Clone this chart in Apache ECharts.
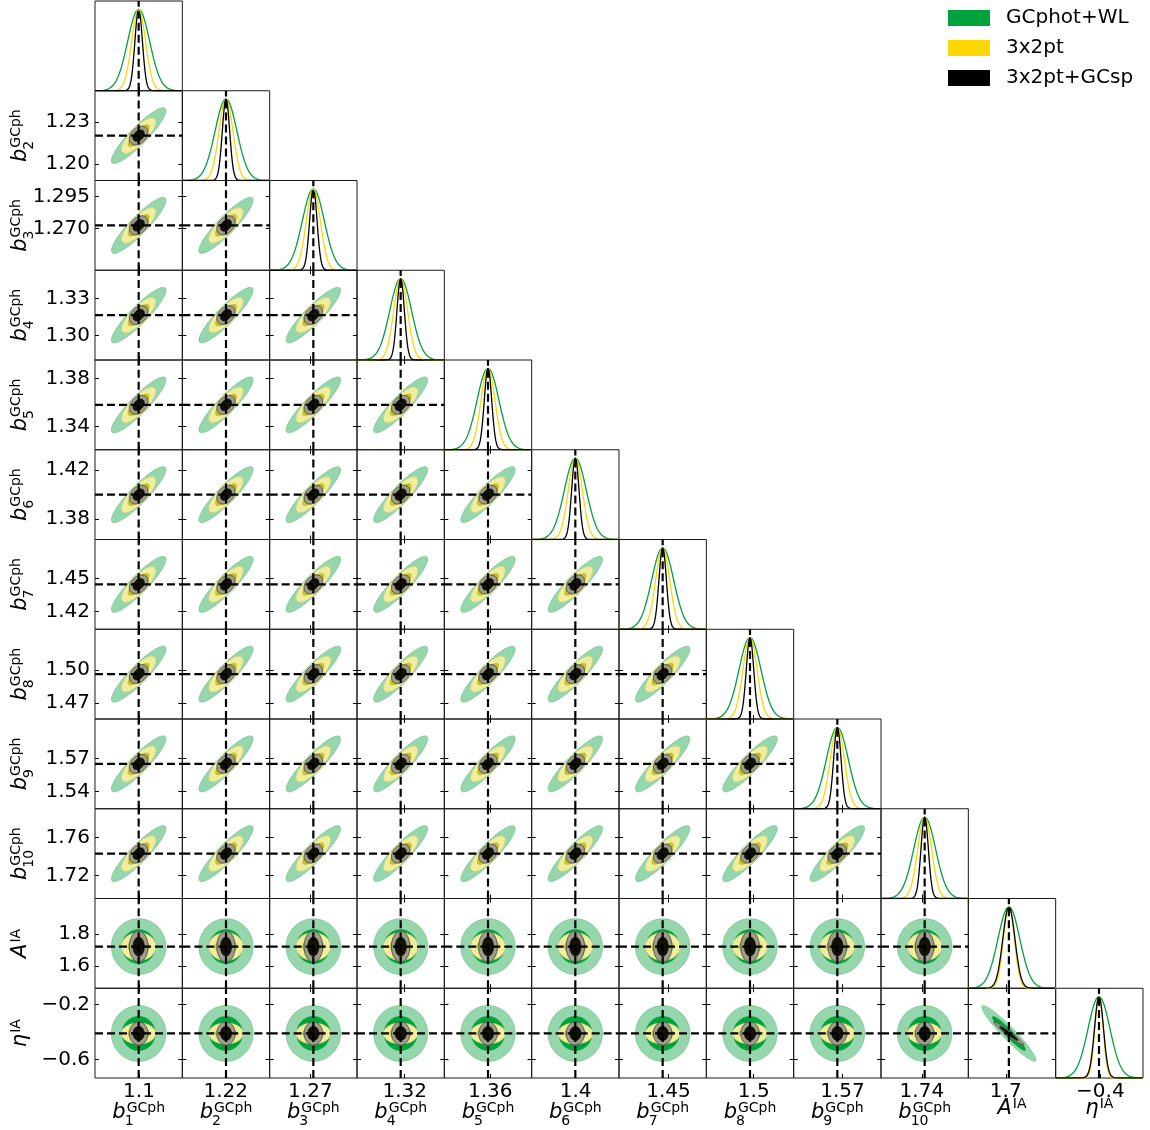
<!DOCTYPE html>
<html><head><meta charset="utf-8">
<script src="https://cdn.jsdelivr.net/npm/echarts@6/dist/echarts.min.js"></script>
<style>html,body{margin:0;padding:0;background:#fff}#c{width:1150px;height:1130px}</style>
</head><body><div id="c"></div><script>
// ---------------- data ----------------
const probeNames = ['GCphot+WL', '3x2pt', '3x2pt+GCsp'];
const paramMain = ['b','b','b','b','b','b','b','b','b','b','A','η'];
const paramSup  = ['GCph','GCph','GCph','GCph','GCph','GCph','GCph','GCph','GCph','GCph','IA','IA'];
const paramSub  = ['1','2','3','4','5','6','7','8','9','10','',''];
const fiducials = [1.0998, 1.2202, 1.2724, 1.3166, 1.3581, 1.3998, 1.4446, 1.4965, 1.5652, 1.7430, 1.72, -0.41];
const rangeMin  = [1.0708, 1.1882, 1.2374, 1.2801, 1.3206, 1.3631, 1.4036, 1.4555, 1.5242, 1.6960, 1.46, -0.735];
const rangeMax  = [1.1288, 1.2522, 1.3074, 1.3531, 1.3956, 1.4365, 1.4856, 1.5375, 1.6062, 1.7900, 2.02, -0.08];
const xTickValues = [1.1, 1.22, 1.27, 1.32, 1.36, 1.4, 1.45, 1.5, 1.57, 1.74, 1.7, -0.4];
const xTickLabels = ['1.1','1.22','1.27','1.32','1.36','1.4','1.45','1.5','1.57','1.74','1.7','\u22120.4'];
const yTickValues = [[], [1.20,1.23], [1.270,1.295], [1.30,1.33], [1.34,1.38], [1.38,1.42], [1.42,1.45], [1.47,1.50], [1.54,1.57], [1.72,1.76], [1.6,1.8], [-0.6,-0.2]];
const yTickLabels = [[], ['1.20','1.23'], ['1.270','1.295'], ['1.30','1.33'], ['1.34','1.38'], ['1.38','1.42'], ['1.42','1.45'], ['1.47','1.50'], ['1.54','1.57'], ['1.72','1.76'], ['1.6','1.8'], ['\u22120.6','\u22120.2']];
// 1-sigma marginal errors per probe
const sigmaGreen  = [0.0073, 0.0080, 0.0088, 0.0091, 0.0094, 0.0092, 0.0103, 0.0103, 0.0103, 0.0118, 0.070, 0.082];
const sigmaYellow = [0.0046, 0.0051, 0.0056, 0.0058, 0.0060, 0.0059, 0.0066, 0.0066, 0.0066, 0.0075, 0.035, 0.031];
const sigmaBlack  = [0.0025, 0.0027, 0.0030, 0.0031, 0.0032, 0.0031, 0.0035, 0.0035, 0.0035, 0.0040, 0.039, 0.034];
// correlation coefficients per probe (green, yellow, black)
const corrBiasBias = [0.90, 0.78, 0.35];
const corrBiasIA   = [0.0, 0.0, 0.0];
const corrAEta     = [-0.95, -0.97, -0.97];
// -------------------------------------

const sigmas = [sigmaGreen, sigmaYellow, sigmaBlack];
const lineColors = ['#00a23c', '#ffd700', '#000000'];
const layers = [
  {probe:0, k:2.48, fill:'#96d6ac', stroke:'#72c590', lw:0.8},
  {probe:0, k:1.52, fill:'#00a23c', stroke:'#00a23c', lw:0.5},
  {probe:1, k:2.48, fill:'#f1ed9e', stroke:'#d9d27a', lw:0.8},
  {probe:1, k:1.52, fill:'#cbc41c', stroke:'#b3aa22', lw:0.5},
  {probe:2, k:2.48, fill:'#9d9d8a', stroke:'#4d4d40', lw:1},
  {probe:2, k:1.52, fill:'#121208', stroke:'#000000', lw:0.5}
];
function corrOf(p, r, c) {
  if (r < 10 && c < 10) return corrBiasBias[p];
  if (r >= 10 && c >= 10) return corrAEta[p];
  return corrBiasIA[p];
}

const N = 12, GL = 95, GT = 1, PW = 1048 / 12, PH = 1077 / 12;
const FONT = '"DejaVu Sans", sans-serif';
const grids = [], xAxes = [], yAxes = [], series = [];
let gi = 0;
for (let r = 0; r < N; r++) {
  for (let c = 0; c <= r; c++) {
    const diag = r === c;
    grids.push({left: GL + c * PW, top: GT + r * PH, width: PW, height: PH, show: true,
      borderColor: '#1a1a1a', borderWidth: 1, backgroundColor: 'transparent'});
    const xb = {type: 'value', gridIndex: gi, min: rangeMin[c], max: rangeMax[c], position: 'bottom',
      axisLine: {show: false}, splitLine: {show: false},
      axisTick: {show: true, inside: true, length: 4, customValues: [xTickValues[c]], lineStyle: {color: '#000', width: 1}},
      axisLabel: {show: r === N - 1, customValues: [xTickValues[c]], formatter: () => xTickLabels[c],
        fontSize: 20, fontFamily: FONT, color: '#000', margin: 4}};
    const xt = {type: 'value', gridIndex: gi, min: rangeMin[c], max: rangeMax[c], position: 'top',
      axisLine: {show: false}, splitLine: {show: false},
      axisTick: {show: !diag, inside: true, length: 4, customValues: [xTickValues[c]], lineStyle: {color: '#000', width: 1}},
      axisLabel: {show: false}};
    xAxes.push(xb, xt);
    if (diag) {
      yAxes.push({type: 'value', gridIndex: gi, min: 0, max: 1.1, axisLine: {show: false}, splitLine: {show: false}, axisTick: {show: false}, axisLabel: {show: false}},
                 {type: 'value', gridIndex: gi, min: 0, max: 1.1, position: 'right', axisLine: {show: false}, splitLine: {show: false}, axisTick: {show: false}, axisLabel: {show: false}});
    } else {
      const tv = yTickValues[r], tl = yTickLabels[r];
      yAxes.push({type: 'value', gridIndex: gi, min: rangeMin[r], max: rangeMax[r], position: 'left',
        axisLine: {show: false}, splitLine: {show: false},
        axisTick: {show: true, inside: true, length: 4, customValues: tv, lineStyle: {color: '#000', width: 1}},
        axisLabel: {show: c === 0, customValues: tv,
          formatter: (v) => { let bi = 0; tv.forEach((t, i) => { if (Math.abs(t - v) < Math.abs(tv[bi] - v)) bi = i; }); return tl[bi]; },
          fontSize: 20, fontFamily: FONT, color: '#000', margin: 5}},
        {type: 'value', gridIndex: gi, min: rangeMin[r], max: rangeMax[r], position: 'right',
        axisLine: {show: false}, splitLine: {show: false},
        axisTick: {show: true, inside: true, length: 4, customValues: tv, lineStyle: {color: '#000', width: 1}},
        axisLabel: {show: false}});
    }
    const xi = 2 * gi, yi = 2 * gi;
    if (diag) {
      for (let p = 0; p < 3; p++) {
        const pts = [];
        const n = 200;
        for (let s = 0; s <= n; s++) {
          const x = rangeMin[c] + (rangeMax[c] - rangeMin[c]) * s / n;
          const z = (x - fiducials[c]) / sigmas[p][c];
          pts.push([x, Math.exp(-0.5 * z * z)]);
        }
        series.push({type: 'line', name: probeNames[p], xAxisIndex: xi, yAxisIndex: yi, data: pts,
          showSymbol: false, symbol: 'none', silent: true, z: 3,
          lineStyle: {color: lineColors[p], width: 1.3}, itemStyle: {color: lineColors[p]}});
      }
      series.push({type: 'line', xAxisIndex: xi, yAxisIndex: yi, data: [[fiducials[c], 0], [fiducials[c], 1.1]],
        showSymbol: false, symbol: 'none', silent: true, z: 5,
        lineStyle: {color: '#000', width: 2.2, type: [8, 4]}});
    } else {
      const rr = r, cc = c;
      series.push({type: 'custom', xAxisIndex: xi, yAxisIndex: yi, silent: true, z: 2,
        data: layers.map((l, k) => [k]),
        renderItem: (params, api) => {
          const L = layers[api.value(0)];
          const sx = sigmas[L.probe][cc], sy = sigmas[L.probe][rr], rho = corrOf(L.probe, rr, cc);
          const q = Math.sqrt(1 - rho * rho);
          const pts = [];
          for (let s = 0; s < 120; s++) {
            const t = 2 * Math.PI * s / 120, ct = Math.cos(t), st = Math.sin(t);
            pts.push(api.coord([fiducials[cc] + L.k * sx * ct, fiducials[rr] + L.k * sy * (rho * ct + q * st)]));
          }
          return {type: 'polygon', shape: {points: pts}, style: {fill: L.fill, stroke: L.stroke, lineWidth: L.lw}};
        }});
      series.push({type: 'line', xAxisIndex: xi, yAxisIndex: yi, data: [[fiducials[c], rangeMin[r]], [fiducials[c], rangeMax[r]]],
        showSymbol: false, symbol: 'none', silent: true, z: 5, lineStyle: {color: '#000', width: 2.2, type: [8, 4]}});
      series.push({type: 'line', xAxisIndex: xi, yAxisIndex: yi, data: [[rangeMin[c], fiducials[r]], [rangeMax[c], fiducials[r]]],
        showSymbol: false, symbol: 'none', silent: true, z: 5, lineStyle: {color: '#000', width: 2.2, type: [8, 4]}});
    }
    gi++;
  }
}

// axis name labels (math-style: italic main, superscript, subscript)
const mctx = document.createElement('canvas').getContext('2d');
function tw(text, font) { mctx.font = font; return mctx.measureText(text).width; }
const MAINF = 'italic 21px "DejaVu Sans"', SMALLF = '14px "DejaVu Sans"';
function labelChildren(i) {
  const mw = tw(paramMain[i], MAINF);
  const sw = Math.max(tw(paramSup[i], SMALLF), paramSub[i] ? tw(paramSub[i], SMALLF) : 0);
  const kids = [
    {type: 'text', x: 0, y: -0.35 * 21, style: {text: paramMain[i], font: MAINF, fill: '#000', textAlign: 'left', textVerticalAlign: 'middle'}},
    {type: 'text', x: mw + 1, y: -7 - 0.35 * 14, style: {text: paramSup[i], font: SMALLF, fill: '#000', textAlign: 'left', textVerticalAlign: 'middle'}}
  ];
  if (paramSub[i]) kids.push({type: 'text', x: mw - 1, y: 6 - 0.35 * 14, style: {text: paramSub[i], font: SMALLF, fill: '#000', textAlign: 'left', textVerticalAlign: 'middle'}});
  return {kids, w: mw + 1 + sw};
}
const graphics = [];
for (let c = 0; c < N; c++) {
  const L = labelChildren(c);
  const base = c < 10 ? 1120 : 1116;
  graphics.push({type: 'group', x: GL + (c + 0.5) * PW - L.w / 2, y: base, children: L.kids, silent: true});
}
for (let r = 1; r < N; r++) {
  const L = labelChildren(r);
  graphics.push({type: 'group', x: 28, y: GT + (r + 0.5) * PH + L.w / 2, rotation: Math.PI / 2, children: L.kids, silent: true});
}

const chart = echarts.init(document.getElementById('c'), null, {renderer: 'canvas'});
chart.setOption({
  animation: false,
  backgroundColor: '#fff',
  grid: grids, xAxis: xAxes, yAxis: yAxes, series: series,
  legend: {left: 943, top: 3, orient: 'vertical', itemWidth: 42, itemHeight: 16, itemGap: 10,
    selectedMode: false,
    textStyle: {fontSize: 20, fontFamily: FONT, color: '#000', padding: [0, 0, 0, 11]},
    data: probeNames.map((n, k) => ({name: n, icon: 'rect', itemStyle: {color: lineColors[k]}}))},
  graphic: graphics
});
</script></body></html>
